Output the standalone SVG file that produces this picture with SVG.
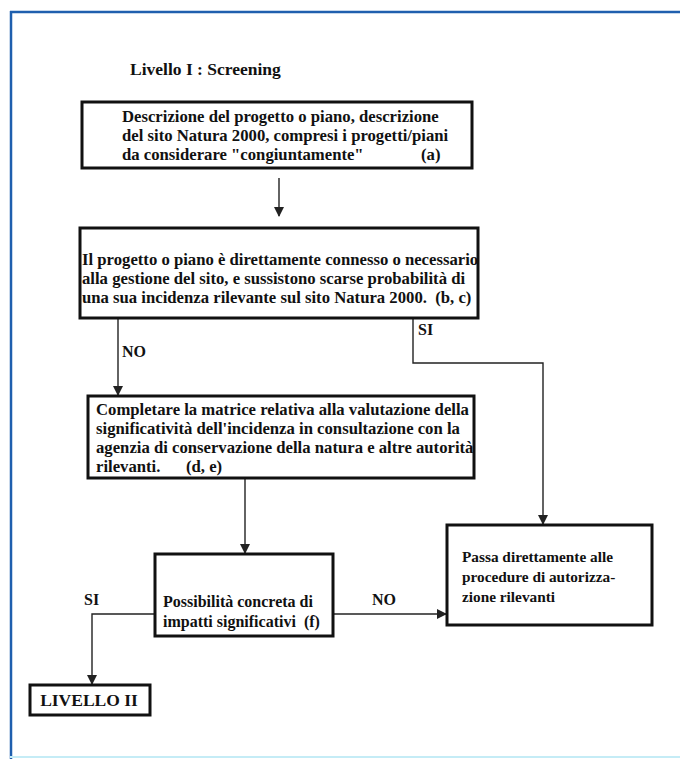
<svg xmlns="http://www.w3.org/2000/svg" width="680" height="759" viewBox="0 0 680 759">
<style>
  .t { font-family: "Liberation Serif", "Times New Roman", serif; font-weight: bold; font-size: 16.7px; fill: #111; white-space: pre; }
  .s16 { font-size: 16px; }
  .s15 { font-size: 15.3px; }
  .s17 { font-size: 17.5px; }
  .box { fill: #fff; stroke: #111; stroke-width: 3; }
  .conn { fill: none; stroke: #222; stroke-width: 1.4; }
</style>
<defs>
  <marker id="ah" markerWidth="10" markerHeight="12" refX="9" refY="5" orient="auto" markerUnits="userSpaceOnUse">
    <path d="M0,0 L10,5 L0,10 Z" fill="#222"/>
  </marker>
</defs>
<rect width="680" height="759" fill="#fff"/>
<g id="frame">
  <line x1="10" y1="12" x2="680" y2="12" stroke="#1f5fae" stroke-width="2.5"/>
  <line x1="11" y1="11" x2="11" y2="759" stroke="#1f5fae" stroke-width="2.5"/>
  <line x1="10" y1="757" x2="680" y2="757" stroke="#c5ecf6" stroke-width="2"/>
</g>
<g id="title">
  <text class="t s17" x="130" y="75">Livello I : Screening</text>
</g>
<g id="connectors">
  <line class="conn" x1="279" y1="178" x2="279" y2="216" marker-end="url(#ah)"/>
  <line class="conn" x1="118" y1="318" x2="118" y2="395" marker-end="url(#ah)"/>
  <path class="conn" d="M413,318 V363 H543 V524" marker-end="url(#ah)"/>
  <line class="conn" x1="245" y1="478" x2="245" y2="553" marker-end="url(#ah)"/>
  <line class="conn" x1="333" y1="614" x2="446" y2="614" marker-end="url(#ah)"/>
  <path class="conn" d="M155,614 H92 V684" marker-end="url(#ah)"/>
  <text class="t s16" x="122" y="357">NO</text>
  <text class="t s16" x="418" y="335">SI</text>
  <text class="t s16" x="372" y="605">NO</text>
  <text class="t s16" x="84" y="605">SI</text>
</g>
<g id="n1">
  <rect class="box" x="82" y="102" width="390" height="66"/>
  <text class="t" x="122" y="122">Descrizione del progetto o piano, descrizione</text>
  <text class="t" x="122" y="141">del sito Natura 2000, compresi i progetti/piani</text>
  <text class="t" x="122" y="160">da considerare "congiuntamente"</text>
  <text class="t" x="421" y="160">(a)</text>
</g>
<g id="n2">
  <rect class="box" x="80" y="228" width="398" height="90"/>
  <text class="t" x="82" y="265">Il progetto o piano è direttamente connesso o necessario</text>
  <text class="t" x="82" y="284">alla gestione del sito, e sussistono scarse probabilità di</text>
  <text class="t" x="82" y="303">una sua incidenza rilevante sul sito Natura 2000.  (b, c)</text>
</g>
<g id="n3">
  <rect class="box" x="88" y="396" width="386" height="82"/>
  <text class="t" x="96" y="415">Completare la matrice relativa alla valutazione della</text>
  <text class="t" x="96" y="434">significatività dell'incidenza in consultazione con la</text>
  <text class="t" x="96" y="453">agenzia di conservazione della natura e altre autorità</text>
  <text class="t" x="96" y="472">rilevanti.</text>
  <text class="t" x="186" y="472">(d, e)</text>
</g>
<g id="n4">
  <rect class="box" x="155" y="554" width="178" height="82"/>
  <text class="t s16" x="163" y="607">Possibilità concreta di</text>
  <text class="t s16" x="163" y="627">impatti significativi  (f)</text>
</g>
<g id="n5">
  <rect class="box" x="447" y="525" width="205" height="100"/>
  <text class="t s15" x="462" y="562">Passa direttamente alle</text>
  <text class="t s15" x="462" y="582">procedure di autorizza-</text>
  <text class="t s15" x="462" y="602">zione rilevanti</text>
</g>
<g id="n6">
  <rect class="box" x="30" y="685" width="120" height="30"/>
  <text class="t s17" x="89" y="706" text-anchor="middle">LIVELLO II</text>
</g>
</svg>
